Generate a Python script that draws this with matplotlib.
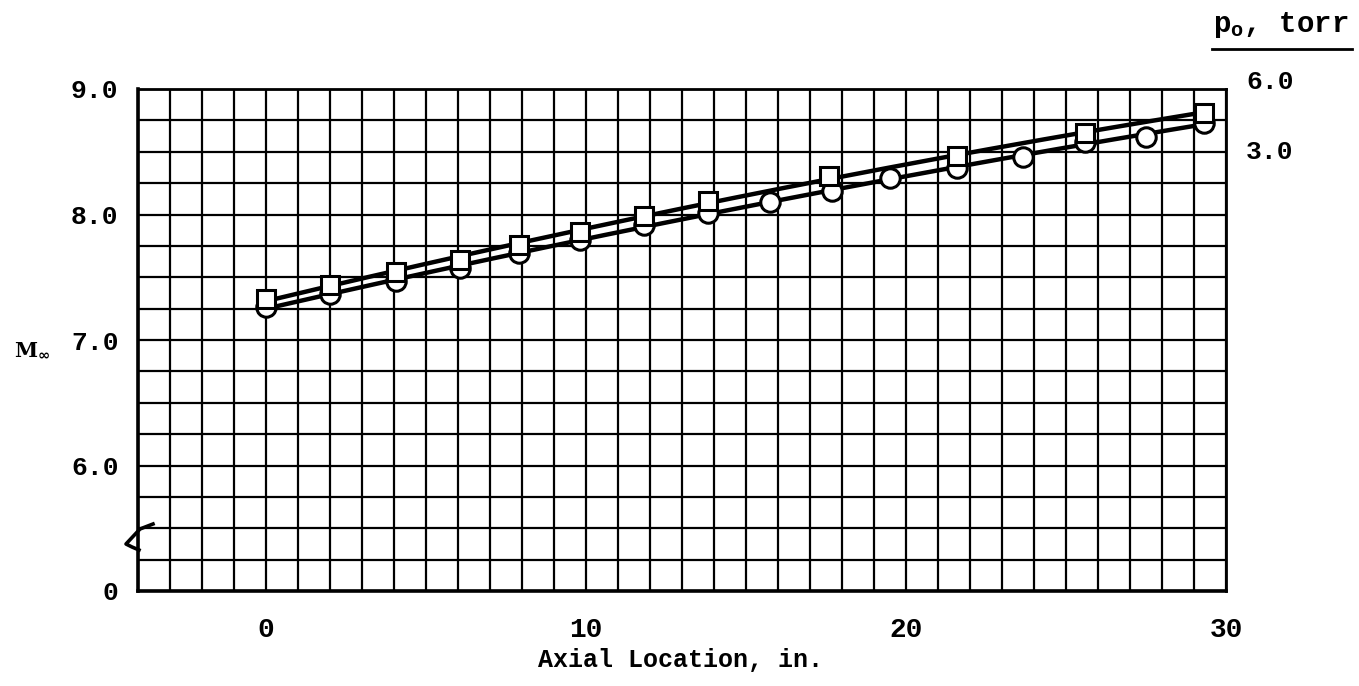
import numpy as np
import matplotlib
matplotlib.use("Agg")
import matplotlib.pyplot as plt
from matplotlib.lines import Line2D

# ---- data ----
sq_x = [0, 2, 4.05, 6.05, 7.9, 9.8, 11.8, 13.8, 17.6, 21.6, 25.6, 29.3]
sq_m = [7.33, 7.44, 7.54, 7.64, 7.76, 7.86, 7.99, 8.11, 8.31, 8.47, 8.65, 8.81]

ci_x = [0, 2, 4.05, 6.05, 7.9, 9.8, 11.8, 13.8, 15.75, 17.7, 19.5, 21.6, 23.65, 25.6, 27.5, 29.3]
ci_m = [7.26, 7.37, 7.47, 7.57, 7.69, 7.80, 7.92, 8.01, 8.10, 8.19, 8.29, 8.37, 8.46, 8.58, 8.62, 8.73]

x_ticks = [0, 10, 20, 30]
y_ticks = [5.0, 6.0, 7.0, 8.0, 9.0]
y_ticklabels = ["0", "6.0", "7.0", "8.0", "9.0"]
legend_values = ["6.0", "3.0"]

FONT = ["Liberation Mono", "DejaVu Sans Mono", "DejaVu Sans"]
plt.rcParams["font.family"] = FONT
plt.rcParams["font.weight"] = "bold"

W, H = 1359, 686
fig = plt.figure(figsize=(W / 100, H / 100), dpi=100)
ax = fig.add_axes([138 / W, 1 - 591 / H, (1226 - 138) / W, (591 - 89) / H])

ax.set_xlim(-4, 30)
ax.set_ylim(5.0, 9.0)
ax.set_xticks(np.arange(-4, 31, 1), minor=True)
ax.set_yticks(np.arange(5.0, 9.01, 0.25), minor=True)
ax.set_xticks(x_ticks)
ax.set_yticks(y_ticks)
ax.set_yticklabels(y_ticklabels)
ax.grid(which="both", color="black", linewidth=1.6)
ax.set_axisbelow(True)
ax.tick_params(which="both", length=0)
ax.tick_params(axis="x", labelsize=20, pad=19)
ax.tick_params(axis="y", labelsize=19, pad=14)
for lab in ax.get_xticklabels() + ax.get_yticklabels():
    lab.set_fontweight("bold")
for side, sp in ax.spines.items():
    sp.set_linewidth(2.6 if side in ("left", "bottom") else 2.0)
    sp.set_color("black")

# faired curves through data
for xs, ms in ((sq_x, sq_m), (ci_x, ci_m)):
    xs = np.asarray(xs); ms = np.asarray(ms)
    c = np.polyfit(xs, ms, 2)
    xx = np.linspace(xs.min(), xs.max(), 200)
    ax.plot(xx, np.polyval(c, xx), color="black", linewidth=3.2, zorder=3)

ax.plot(ci_x, ci_m, linestyle="none", marker="o", markersize=14,
        markerfacecolor="white", markeredgecolor="black", markeredgewidth=2.2, zorder=4)
ax.plot(sq_x, sq_m, linestyle="none", marker="s", markersize=13,
        markerfacecolor="white", markeredgecolor="black", markeredgewidth=2.2, zorder=5)

# axis break mark on left axis
bx = np.array([153, 140, 126, 132, 139]) / W
by = 1 - np.array([524, 529, 544, 547, 550]) / H
fig.add_artist(Line2D(bx, by, color="black", linewidth=2.6))

# axis labels
fig.text(680 / W, 1 - 660 / H, "Axial Location, in.", ha="center", va="center",
         fontsize=18, fontweight="bold")
fig.text(14 / W, 1 - 350 / H, r"M$_\infty$", ha="left", va="center",
         fontsize=15, fontweight="bold", family=["DejaVu Serif"])

# right-side legend-like labels
fig.text(1213 / W, 1 - 25 / H, r"$\mathregular{p_o}$, torr", ha="left", va="center",
         fontsize=21, fontweight="bold")
fig.add_artist(Line2D([1212 / W, 1352 / W], [1 - 49 / H, 1 - 49 / H], color="black", linewidth=2.0))
fig.text(1270 / W, 1 - 82 / H, legend_values[0], ha="center", va="center",
         fontsize=19, fontweight="bold")
fig.text(1270 / W, 1 - 152 / H, legend_values[1], ha="center", va="center",
         fontsize=19, fontweight="bold")

fig.savefig("out.png", dpi=100, facecolor="white")
